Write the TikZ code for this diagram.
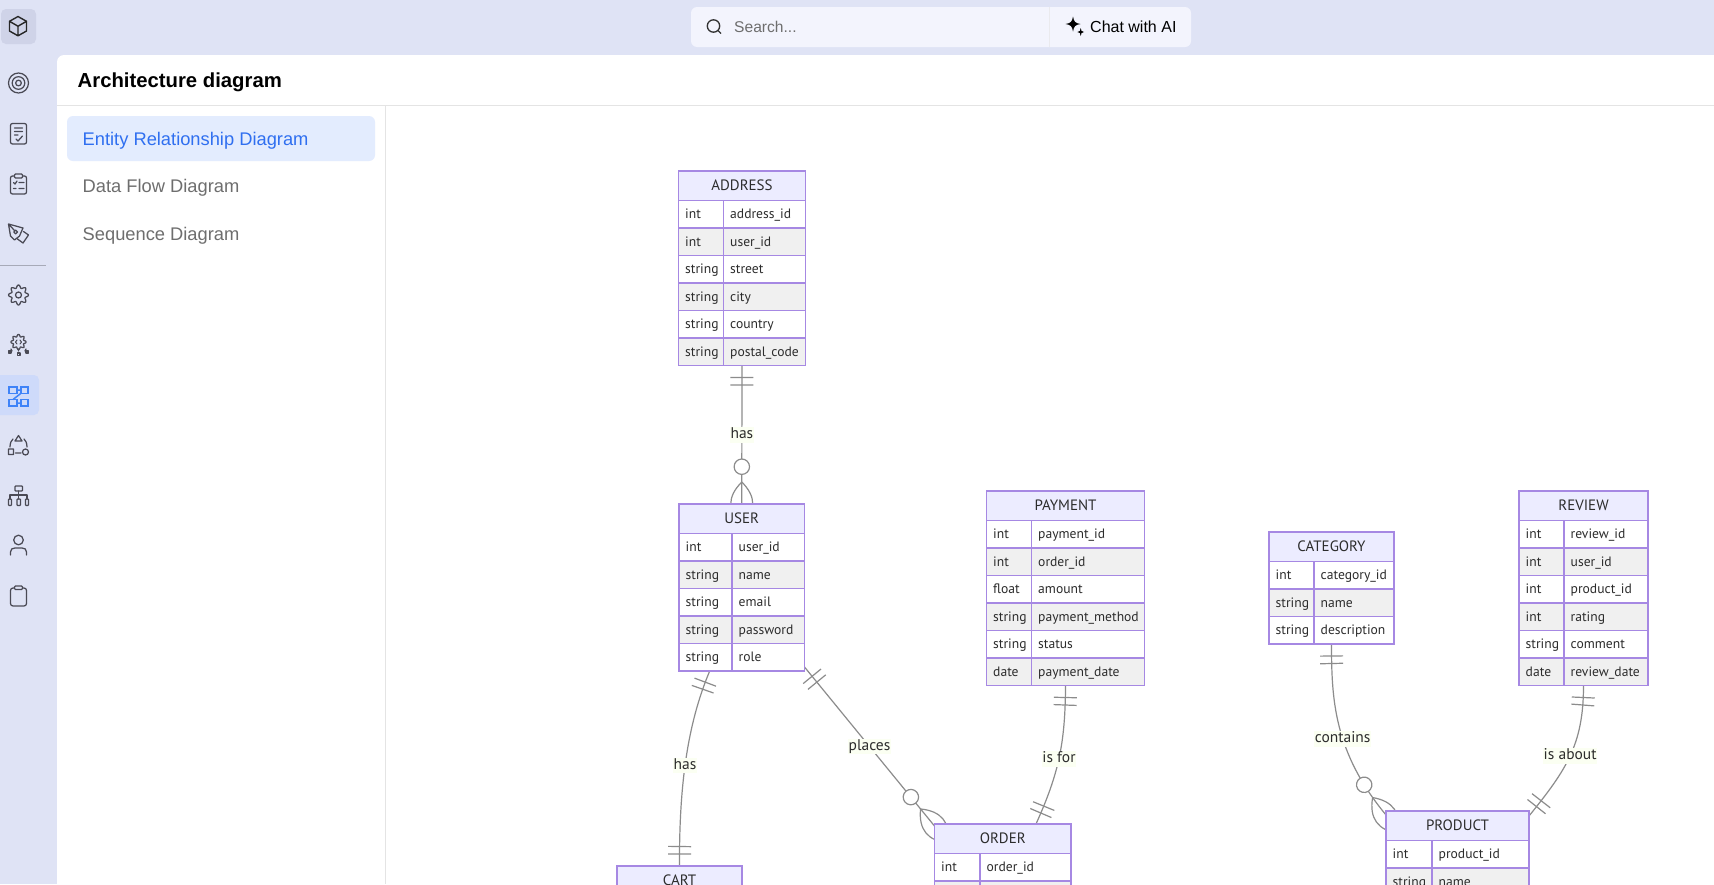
\documentclass[tikz,border=0pt]{standalone}
\usepackage{fontspec}
\setmainfont{Liberation Sans}
\newfontfamily\erfont{PT Sans}
\usetikzlibrary{decorations.markings}
\definecolor{pagebg}{HTML}{DFE3F5}
\definecolor{iconbg}{HTML}{CFD3E8}
\definecolor{activebg}{HTML}{CEDAFA}
\definecolor{icondark}{HTML}{4A4A55}
\definecolor{iconblue}{HTML}{3F83F8}
\definecolor{tabbg}{HTML}{E3ECFE}
\definecolor{tabblue}{HTML}{2F6FF0}
\definecolor{tabgray}{HTML}{6E6E6E}
\definecolor{sepgray}{HTML}{E4E4E4}
\definecolor{searchbg}{HTML}{F3F4FD}
\definecolor{headfill}{HTML}{ECECFF}
\definecolor{erborder}{HTML}{A688E3}
\definecolor{rowgray}{HTML}{F0F0F0}
\definecolor{edgegray}{HTML}{8C8C8C}
\definecolor{labelbg}{HTML}{FBFFF2}
\definecolor{ertext}{HTML}{2C2C2C}
\pgfdeclarelayer{bg}
\pgfdeclarelayer{edges}
\pgfsetlayers{bg,edges,main}

% name, left, top, divider, right, title, row count, rows
\newcommand{\ertable}[8]{%
  \pgfmathsetmacro{\boxw}{#5-#2}
  \pgfmathsetmacro{\boxh}{29.5+27.5*#7}
  \pgfmathsetmacro{\boxx}{(#2+#5)/2}
  \pgfmathsetmacro{\boxy}{#3+\boxh/2}
  \node[box, minimum width=\boxw pt, minimum height=\boxh pt] (#1) at (\boxx,\boxy) {};
  \fill[headfill] (#2,#3) rectangle (#5,#3+29.5);
  \node[cell, anchor=center, font=\erfont\fontsize{15}{17}\selectfont] (#1head) at (\boxx,#3+16) {#6};
  \foreach \ty/\nm [count=\i] in {#8} {
    \pgfmathsetmacro{\rowy}{#3+29.5+27.5*(\i-1)}
    \ifodd\i\def\rowcol{white}\else\def\rowcol{rowgray}\fi
    \fill[\rowcol] (#2,\rowy) rectangle (#5,\rowy+27.5);
    \draw[erline] (#2,\rowy) -- (#5,\rowy);
    \draw[erline] (#4,\rowy) -- (#4,\rowy+27.5);
    \node[cell] (#1t\i) at (#2+6.5,\rowy+14.5) {\ty};
    \node[cell] (#1n\i) at (#4+6.5,\rowy+14.5) {\nm};
  }
  \draw[erline] (#1.north west) rectangle (#1.south east);
}

\begin{document}
\begin{tikzpicture}[x=1pt, y=-1pt]
  \tikzstyle{box}=[rectangle, fill=white, inner sep=0pt, outer sep=0pt]
  \tikzstyle{erline}=[draw=erborder, line width=1.5pt]
  \tikzstyle{cell}=[anchor=west, inner sep=0pt, text=ertext, text height=10.5pt, text depth=3pt, font=\erfont\fontsize{13.6}{16}\selectfont]
  \tikzstyle{edge}=[draw=edgegray, line width=1.2pt]
  \tikzstyle{edgelabel}=[fill=labelbg, inner sep=0.6pt, text=ertext, text height=11pt, text depth=3.5pt, font=\erfont\fontsize{15.5}{17}\selectfont]
  \tikzstyle{barsstart}=[postaction={decorate, decoration={markings,
    mark=at position 12pt with {\draw (0,-11.5) -- (0,11.5);},
    mark=at position 19.5pt with {\draw (0,-11.5) -- (0,11.5);}}}]
  \tikzstyle{barsend}=[postaction={decorate, decoration={markings,
    mark=at position -19.5pt with {\draw (0,-11.5) -- (0,11.5);},
    mark=at position -12pt with {\draw (0,-11.5) -- (0,11.5);}}}]
  \tikzstyle{zeromany}=[postaction={decorate, decoration={markings,
    mark=at position -37.3pt with {\draw[fill=white] (0,0) circle[radius=7.7];},
    mark=at position -22pt with {\draw (0,0) .. controls (14.7,14.7) and (29.3,14.7) .. (44,0) .. controls (29.3,-14.7) and (14.7,-14.7) .. (0,0);}}}]
  \tikzstyle{iconline}=[draw=icondark, line width=1.25pt, line join=round, line cap=round]
  \tikzstyle{uitab}=[anchor=west, inner sep=0pt, text=tabgray, text height=13pt, text depth=4pt, font=\fontsize{18.3}{20}\selectfont]

  \path[use as bounding box, clip] (0,0) rectangle (1714,884);

  \begin{pgfonlayer}{bg}
    \fill[pagebg] (0,0) rectangle (1714,884);
    \fill[white] (57,884) [rounded corners=7pt] -- (57,55) [sharp corners] -- (1714,55) -- (1714,884) -- cycle;
    \draw[sepgray, line width=1pt] (57,105.5) -- (1714,105.5);
    \draw[sepgray, line width=1pt] (385.5,106) -- (385.5,884);
  \end{pgfonlayer}

  % top bar
  \fill[searchbg, rounded corners=6pt] (691,7) rectangle (1191,47);
  \draw[sepgray!60!searchbg, line width=1pt] (1049.5,7) -- (1049.5,47);
  \draw[black!80, line width=1.3pt] (713.5,26) circle[radius=6.2];
  \draw[black!80, line width=1.3pt] (718,30.5) -- (721,33.5);
  \node[anchor=west, inner sep=0pt, text=tabgray, font=\fontsize{15.6}{18}\selectfont] (search) at (734,27) {Search...};
  \node[anchor=west, inner sep=0pt, text=black, font=\fontsize{16}{18}\selectfont] (chat) at (1090,27) {Chat with AI};
  \fill[black] (1073,16.5) .. controls (1074,22) and (1075,23) .. (1080.5,24) .. controls (1075,25) and (1074,26) .. (1073,31.5) .. controls (1072,26) and (1071,25) .. (1065.5,24) .. controls (1071,23) and (1072,22) .. (1073,16.5) -- cycle;
  \fill[black] (1080.7,28) .. controls (1081,31) and (1081.5,31.5) .. (1084,32) .. controls (1081.5,32.5) and (1081,33) .. (1080.7,36) .. controls (1080.4,33) and (1080,32.5) .. (1077.4,32) .. controls (1080,31.5) and (1080.4,31) .. (1080.7,28) -- cycle;

  % side bar
  \fill[iconbg, rounded corners=5pt] (1,9) rectangle (36,44);
  \fill[activebg, rounded corners=5pt] (-6,375) rectangle (39,415);
  \draw[black!25!pagebg, line width=1pt] (0,265) -- (46,265);
  \draw[draw=black!85, line width=1.4pt, line join=round] (18,16.5) -- (26.5,21.3) -- (26.5,31) -- (18,35.8) -- (9.5,31) -- (9.5,21.3) -- cycle (9.5,21.3) -- (18,26.2) -- (26.5,21.3) (18,26.2) -- (18,35.8);
  \foreach \r in {10,6.3,2.8} \draw[iconline] (18.5,83) circle[radius=\r];
  \draw[iconline, rounded corners=2pt] (10.5,123.5) rectangle (26.5,144);
  \draw[iconline] (14.5,128) -- (22.5,128) (14.5,131.5) -- (22.5,131.5) (14.5,135) -- (18,135) (16,139) -- (18,141) -- (22.5,136);
  \draw[iconline, rounded corners=2pt] (10.5,176) rectangle (26.5,194);
  \draw[iconline, fill=pagebg, rounded corners=1pt] (14.5,174) rectangle (22.5,178);
  \draw[iconline] (13.5,182.5) -- (15,184) -- (17,181) (19,182.5) -- (24,182.5) (13.5,188.5) -- (16,188.5) (19,188.5) -- (24,188.5);
  \draw[iconline] (8.5,224) -- (23,228) -- (19.5,236) -- (14.5,240) -- (10.5,236) -- cycle (8.5,224) -- (14.5,230.5) (23.5,231.5) -- (28.5,235) -- (23,243) -- (17.5,239);
  \draw[iconline] (15.7,232) circle[radius=1.9];
  \draw[iconline] plot[domain=0:360, samples=97, smooth] ({18.5+(8.5+1.5*cos(8*\x))*cos(\x)},{295+(8.5+1.5*cos(8*\x))*sin(\x)});
  \draw[iconline] (18.5,295) circle[radius=3];
  \draw[iconline] plot[domain=0:360, samples=97, smooth] ({18.5+(6.5+1.1*cos(8*\x))*cos(\x)},{342+(6.5+1.1*cos(8*\x))*sin(\x)});
  \draw[iconline, line width=1pt] (17,340) -- (15.5,342) -- (17,344) (20,340) -- (21.5,342) -- (20,344);
  \draw[iconline] (11,349) -- (12,351) (26,349) -- (25,351) (18.5,349) -- (18.5,351);
  \draw[iconline] (8.5,351) rectangle (11,353) (17.5,353) rectangle (20,355.5) (26,351) rectangle (28.5,353);
  \draw[iconblue, line width=1.8pt] (9,387) rectangle (16.7,393.5) (20.7,387) rectangle (28.3,393.5) (9,399.5) rectangle (16.7,406) (20.7,399.5) rectangle (28.3,406);
  \draw[iconblue, line width=1.5pt] (16.7,390) -- (20.7,390) (16.7,403) -- (20.7,403) (20.7,393.5) -- (13,399.5);
  \draw[iconline] (18.5,435.5) -- (22,441) -- (15,441) -- cycle (8.5,449) rectangle (13.5,454.5) (25.5,452) circle[radius=3] (15.5,453) -- (21,453);
  \draw[iconline] (10,447) .. controls (10,443) and (11.5,440) .. (13,439) (27,447) .. controls (27,443) and (25.5,440) .. (24,439);
  \draw[iconline, rounded corners=0.7pt] (15,486) rectangle (22.5,491) (8.5,499) rectangle (11.5,505.5) (17,499) rectangle (20.5,505.5) (25.5,499) rectangle (28.5,505.5);
  \draw[iconline] (18.5,491) -- (18.5,499) (10,499) -- (10,495) -- (27,495) -- (27,499);
  \draw[iconline] (18.5,540) circle[radius=4.8];
  \draw[iconline] (10.5,555) -- (10.5,552) .. controls (10.5,549) and (12.5,548) .. (15,548) -- (22,548) .. controls (24.5,548) and (26.5,549) .. (26.5,552) -- (26.5,555);
  \draw[iconline, rounded corners=2.5pt] (10.5,588) rectangle (26.5,606);
  \draw[iconline, fill=pagebg, rounded corners=1pt] (14.5,586) rectangle (22.5,589.5);

  % side tabs
  \node[anchor=west, inner sep=0pt, text=black, font=\bfseries\fontsize{20.3}{22}\selectfont] (title) at (77.5,82) {Architecture diagram};
  \fill[tabbg, rounded corners=6pt] (67,116) rectangle (375,161);
  \node[uitab, text=tabblue] (tabrel) at (82.5,140.5) {Entity Relationship Diagram};
  \node[uitab] (tabflow) at (82.5,188) {Data Flow Diagram};
  \node[uitab] (tabseq) at (82.5,235.5) {Sequence Diagram};

  % tables
  \ertable{address}{678.5}{171}{723.5}{805.5}{ADDRESS}{6}{int/address\_id,int/user\_id,string/street,string/city,string/country,string/postal\_code}
  \ertable{user}{679}{504}{732}{804.5}{USER}{5}{int/user\_id,string/name,string/email,string/password,string/role}
  \ertable{payment}{986.5}{491}{1031.5}{1144.5}{PAYMENT}{6}{int/payment\_id,int/order\_id,float/amount,string/payment\_method,string/status,date/payment\_date}
  \ertable{category}{1269}{532}{1314}{1394}{CATEGORY}{3}{int/category\_id,string/name,string/description}
  \ertable{review}{1519}{491}{1564}{1648}{REVIEW}{6}{int/review\_id,int/user\_id,int/product\_id,int/rating,string/comment,date/review\_date}
  \ertable{cart}{617}{866}{679}{742}{CART}{0}{}
  \ertable{order}{934.5}{824}{980}{1071}{ORDER}{2}{int/order\_id,~/~}
  \ertable{product}{1386}{811}{1432}{1529}{PRODUCT}{2}{int/product\_id,string/name}

  % connectors
  \begin{pgfonlayer}{edges}
    \draw[edge, barsstart, zeromany] (address.south) -- node[edgelabel] (lhas) {has} (user.north);
    \draw[edge, barsstart, barsend] (user.-111.5) .. controls (690,718) and (679,775) .. node[edgelabel, pos=.57] (lcart) {has} (cart.north);
    \draw[edge, barsstart, zeromany] ([yshift=4pt]user.south east) -- node[edgelabel] (lplaces) {places} ([yshift=-2pt]order.north west);
    \draw[edge, barsstart, barsend] (payment.south) .. controls (1065.3,745) and (1058,775) .. node[edgelabel] (lisfor) {is for} ([xshift=-35pt]order.north east);
    \draw[edge, barsstart, zeromany] (category.south) .. controls (1331.5,700) and (1334,752) .. node[edgelabel, pos=.57] (lcontains) {contains} ([yshift=-4pt]product.north west);
    \draw[edge, barsstart, barsend] (review.south) .. controls (1583.5,745) and (1566,770) .. node[edgelabel, pos=.5] (lisabout) {is about} ([yshift=-5pt]product.north east);
  \end{pgfonlayer}
\end{tikzpicture}
\end{document}
